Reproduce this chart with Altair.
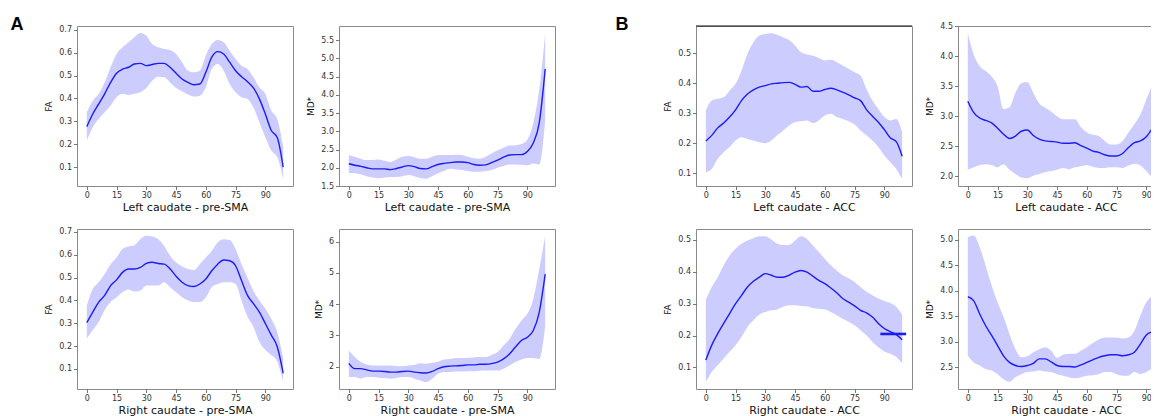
import altair as alt
import pandas as pd

# ---------------- data ----------------
XS = list(range(0, 100, 3))  # 0,3,...,99
X_TICKS = [0, 15, 30, 45, 60, 75, 90]

# A: Left caudate - pre-SMA, FA
P1_MEAN = [0.277,0.332,0.376,0.42,0.47,0.51,0.528,0.536,0.55,0.553,0.543,0.548,0.553,0.553,0.536,0.51,0.485,0.47,0.46,0.463,0.514,0.58,0.604,0.594,0.558,0.521,0.495,0.473,0.446,0.398,0.332,0.26,0.23,0.1]
P1_HI = [0.34,0.39,0.42,0.47,0.536,0.594,0.623,0.645,0.667,0.685,0.674,0.637,0.623,0.616,0.611,0.594,0.558,0.521,0.514,0.521,0.587,0.637,0.655,0.645,0.608,0.572,0.543,0.528,0.492,0.449,0.42,0.347,0.31,0.19]
P1_LO = [0.216,0.274,0.31,0.34,0.369,0.405,0.42,0.415,0.42,0.427,0.446,0.478,0.495,0.492,0.47,0.446,0.431,0.417,0.408,0.412,0.449,0.529,0.55,0.521,0.463,0.427,0.405,0.398,0.361,0.296,0.231,0.173,0.144,0.05]

# A: Left caudate - pre-SMA, MD*
P2_MEAN = [2.11,2.07,2.04,2.0,1.97,1.97,1.97,1.95,1.98,2.02,2.06,2.03,1.98,1.97,2.03,2.09,2.12,2.14,2.16,2.16,2.14,2.09,2.07,2.08,2.14,2.21,2.29,2.35,2.36,2.36,2.45,2.68,3.23,4.71]
P2_HI = [2.35,2.3,2.25,2.21,2.21,2.23,2.19,2.16,2.23,2.3,2.32,2.29,2.25,2.25,2.3,2.35,2.35,2.35,2.36,2.35,2.3,2.26,2.25,2.3,2.39,2.48,2.55,2.61,2.62,2.65,2.77,3.23,4.14,5.68]
P2_LO = [1.86,1.85,1.82,1.77,1.73,1.71,1.73,1.75,1.75,1.77,1.8,1.77,1.72,1.7,1.77,1.85,1.91,1.97,1.95,1.94,1.91,1.89,1.89,1.91,1.94,2.0,2.05,2.09,2.09,2.08,2.07,2.12,2.09,3.3]

# A: Right caudate - pre-SMA, FA
P3_MEAN = [0.303,0.349,0.393,0.422,0.465,0.49,0.523,0.538,0.538,0.545,0.562,0.567,0.562,0.559,0.538,0.506,0.48,0.465,0.461,0.472,0.494,0.53,0.559,0.577,0.574,0.552,0.487,0.422,0.386,0.349,0.299,0.248,0.197,0.081]
P3_HI = [0.378,0.45,0.48,0.516,0.559,0.588,0.625,0.636,0.642,0.668,0.683,0.68,0.668,0.639,0.596,0.567,0.549,0.538,0.533,0.559,0.588,0.617,0.654,0.668,0.665,0.625,0.559,0.501,0.443,0.4,0.364,0.32,0.262,0.146]
P3_LO = [0.233,0.27,0.306,0.357,0.393,0.414,0.436,0.448,0.439,0.443,0.465,0.465,0.465,0.48,0.458,0.436,0.414,0.4,0.393,0.393,0.414,0.458,0.472,0.48,0.48,0.472,0.4,0.328,0.284,0.219,0.183,0.161,0.132,0.045]

# A: Right caudate - pre-SMA, MD*
P4_MEAN = [2.11,1.94,1.94,1.9,1.86,1.86,1.85,1.83,1.83,1.85,1.86,1.83,1.81,1.8,1.85,1.94,2.0,2.02,2.03,2.04,2.06,2.06,2.08,2.08,2.1,2.15,2.25,2.41,2.63,2.84,2.94,3.16,3.74,4.96]
P4_HI = [2.52,2.31,2.15,2.07,2.04,2.04,2.04,2.04,2.02,2.02,2.04,2.06,2.11,2.1,2.13,2.17,2.23,2.25,2.28,2.28,2.29,2.3,2.31,2.31,2.38,2.47,2.68,2.89,3.21,3.47,3.69,4.16,5.12,6.18]
P4_LO = [1.67,1.67,1.62,1.67,1.67,1.65,1.64,1.62,1.64,1.67,1.67,1.62,1.56,1.51,1.62,1.78,1.83,1.83,1.85,1.85,1.86,1.86,1.87,1.88,1.88,1.88,1.94,2.04,2.15,2.23,2.28,2.28,2.25,3.3]

# B: Left caudate - ACC, FA
P5_MEAN = [0.207,0.226,0.251,0.267,0.287,0.311,0.342,0.364,0.378,0.387,0.392,0.398,0.4,0.402,0.403,0.396,0.387,0.389,0.373,0.373,0.379,0.383,0.378,0.37,0.361,0.351,0.342,0.312,0.29,0.27,0.245,0.218,0.205,0.156]
P5_HI = [0.309,0.342,0.348,0.353,0.376,0.398,0.442,0.498,0.537,0.559,0.564,0.567,0.562,0.553,0.544,0.526,0.503,0.496,0.492,0.484,0.476,0.478,0.47,0.459,0.448,0.437,0.426,0.381,0.342,0.314,0.287,0.276,0.281,0.237]
P5_LO = [0.103,0.114,0.148,0.17,0.187,0.209,0.22,0.214,0.209,0.203,0.2,0.209,0.226,0.242,0.259,0.27,0.273,0.276,0.267,0.276,0.292,0.298,0.287,0.281,0.273,0.262,0.242,0.226,0.209,0.187,0.159,0.137,0.114,0.081]

# B: Left caudate - ACC, MD*
P6_MEAN = [3.25,3.06,2.97,2.93,2.89,2.8,2.7,2.63,2.67,2.75,2.77,2.68,2.62,2.59,2.58,2.57,2.55,2.55,2.56,2.51,2.47,2.42,2.4,2.36,2.34,2.34,2.38,2.48,2.56,2.59,2.66,2.8,2.98,3.2]
P6_HI = [4.38,4.02,3.83,3.75,3.66,3.5,3.12,3.15,3.39,3.55,3.57,3.39,3.21,3.14,3.08,3.0,2.95,2.95,2.95,2.82,2.73,2.69,2.67,2.59,2.53,2.53,2.59,2.73,2.87,3.03,3.28,3.55,4.0,4.38]
P6_LO = [2.11,2.15,2.19,2.2,2.19,2.15,2.2,2.11,2.04,1.98,1.97,2.01,2.04,2.07,2.09,2.11,2.14,2.12,2.15,2.17,2.19,2.16,2.14,2.14,2.15,2.15,2.14,2.18,2.21,2.18,2.09,2.0,2.12,2.1]

# B: Right caudate - ACC, FA
P7_MEAN = [0.123,0.17,0.206,0.238,0.269,0.3,0.326,0.352,0.37,0.383,0.394,0.389,0.383,0.383,0.389,0.399,0.404,0.399,0.386,0.373,0.363,0.349,0.334,0.316,0.305,0.293,0.279,0.271,0.258,0.238,0.222,0.212,0.203,0.187]
P7_HI = [0.313,0.352,0.383,0.42,0.451,0.472,0.488,0.498,0.505,0.511,0.511,0.501,0.488,0.484,0.484,0.498,0.511,0.503,0.482,0.461,0.441,0.42,0.404,0.389,0.38,0.368,0.352,0.337,0.326,0.316,0.308,0.302,0.29,0.265]
P7_LO = [0.055,0.086,0.107,0.128,0.149,0.17,0.196,0.227,0.248,0.266,0.274,0.279,0.282,0.29,0.295,0.295,0.293,0.292,0.286,0.284,0.282,0.274,0.264,0.253,0.243,0.232,0.217,0.201,0.18,0.163,0.15,0.143,0.133,0.113]
P7_SEG_X = [88, 101]
P7_SEG_Y = [0.205, 0.205]

# B: Right caudate - ACC, MD*
P8_MEAN = [3.88,3.8,3.54,3.31,3.12,2.92,2.72,2.59,2.53,2.51,2.53,2.57,2.66,2.66,2.6,2.53,2.51,2.51,2.5,2.54,2.59,2.64,2.69,2.72,2.74,2.74,2.72,2.74,2.79,2.95,3.13,3.19,3.21,3.38]
P8_HI = [5.05,5.08,4.85,4.49,4.1,3.77,3.48,3.15,2.85,2.69,2.71,2.79,2.85,2.89,2.82,2.68,2.74,2.76,2.76,2.82,2.89,2.97,3.04,3.08,3.08,3.08,3.06,3.08,3.21,3.51,3.77,3.9,4.0,4.23]
P8_LO = [2.72,2.59,2.53,2.46,2.43,2.36,2.26,2.21,2.3,2.36,2.4,2.41,2.43,2.41,2.4,2.36,2.33,2.3,2.28,2.3,2.33,2.34,2.36,2.4,2.4,2.36,2.33,2.33,2.4,2.36,2.4,2.47,2.49,2.46]

FA_TICKS_A = [0.1, 0.2, 0.3, 0.4, 0.5, 0.6, 0.7]
FA_TICKS_B = [0.1, 0.2, 0.3, 0.4, 0.5]
MD_TICKS_2 = [1.5, 2.0, 2.5, 3.0, 3.5, 4.0, 4.5, 5.0, 5.5]
MD_TICKS_4 = [2, 3, 4, 5, 6]
MD_TICKS_6 = [2.0, 2.5, 3.0, 3.5, 4.0, 4.5]
MD_TICKS_8 = [2.5, 3.0, 3.5, 4.0, 4.5, 5.0]

W, H = 216, 160
LINE_COLOR = "#1c1cf5"
BAND_COLOR = "#0000ff"
X_DOMAIN = [-4.95, 103.95]


def make_panel(mean, lo, hi, ytitle, xtitle, ydomain, yticks, yfmt,
               letter=None, letter_dx=0, seg=None, top_black=False):
    df = pd.DataFrame({"x": XS, "mean": mean, "lo": lo, "hi": hi})
    xs = alt.Scale(domain=X_DOMAIN, nice=False, zero=False)
    ys = alt.Scale(domain=ydomain, nice=False, zero=False)
    xax = alt.Axis(values=X_TICKS, title=xtitle, format="d")
    yax = alt.Axis(values=yticks, title=ytitle, format=yfmt)
    band = alt.Chart(df).mark_area(color=BAND_COLOR, opacity=0.2,
                                   interpolate="monotone").encode(
        x=alt.X("x:Q", scale=xs, axis=xax),
        y=alt.Y("lo:Q", scale=ys, axis=yax),
        y2="hi:Q",
    )
    line = alt.Chart(df).mark_line(color=LINE_COLOR, strokeWidth=1.4,
                                   interpolate="monotone").encode(
        x=alt.X("x:Q", scale=xs, axis=xax),
        y=alt.Y("mean:Q", scale=ys, axis=yax),
    )
    layers = [band, line]
    if seg is not None:
        sdf = pd.DataFrame({"x": seg[0], "mean": seg[1]})
        layers.append(alt.Chart(sdf).mark_line(color=LINE_COLOR, strokeWidth=2.6, clip=False).encode(
            x=alt.X("x:Q", scale=xs, axis=xax),
            y=alt.Y("mean:Q", scale=ys, axis=yax),
        ))
    if top_black:
        tdf = pd.DataFrame({"k": [0]})
        layers.append(alt.Chart(tdf).mark_rule(color="#111111", strokeWidth=1.2).encode(
            x=alt.value(0), x2=alt.value(W), y=alt.value(0)))
    if letter is not None:
        ldf = pd.DataFrame({"t": [letter]})
        layers.append(alt.Chart(ldf).mark_text(
            fontSize=18, fontWeight="bold", font="Liberation Sans",
            align="center", baseline="alphabetic", color="#000000").encode(
            text="t:N", x=alt.value(letter_dx), y=alt.value(4)))
    return alt.layer(*layers).properties(width=W, height=H)


def spacer():
    sdf = pd.DataFrame({"k": [0]})
    return alt.Chart(sdf).mark_point(opacity=0).encode(
        x=alt.value(0), y=alt.value(0)
    ).properties(width=49, height=H, view=alt.ViewBackground(stroke="transparent"))


p1 = make_panel(P1_MEAN, P1_LO, P1_HI, "FA", "Left caudate - pre-SMA",
                [0.018, 0.716], FA_TICKS_A, ".1f", letter="A", letter_dx=-60)
p2 = make_panel(P2_MEAN, P2_LO, P2_HI, "MD*", "Left caudate - pre-SMA",
                [1.5, 5.89], MD_TICKS_2, ".1f")
p3 = make_panel(P3_MEAN, P3_LO, P3_HI, "FA", "Right caudate - pre-SMA",
                [0.012, 0.713], FA_TICKS_A, ".1f")
p4 = make_panel(P4_MEAN, P4_LO, P4_HI, "MD*", "Right caudate - pre-SMA",
                [1.29, 6.4], MD_TICKS_4, "d")
p5 = make_panel(P5_MEAN, P5_LO, P5_HI, "FA", "Left caudate - ACC",
                [0.057, 0.591], FA_TICKS_B, ".1f", letter="B", letter_dx=-74,
                top_black=True)
p6 = make_panel(P6_MEAN, P6_LO, P6_HI, "MD*", "Left caudate - ACC",
                [1.84, 4.5], MD_TICKS_6, ".1f")
p7 = make_panel(P7_MEAN, P7_LO, P7_HI, "FA", "Right caudate - ACC",
                [0.0325, 0.534], FA_TICKS_B, ".1f", seg=(P7_SEG_X, P7_SEG_Y))
p8 = make_panel(P8_MEAN, P8_LO, P8_HI, "MD*", "Right caudate - ACC",
                [2.068, 5.21], MD_TICKS_8, ".1f")

chart = alt.concat(
    p1, p2, spacer(), p5, p6,
    p3, p4, spacer(), p7, p8,
    columns=5,
    spacing={"row": 43, "column": 46},
    bounds="flush",
).properties(
    padding={"left": 2, "top": 7, "right": -24, "bottom": 0}
).configure(
    font="DejaVu Sans"
).configure_view(
    stroke="#8a8a8a", strokeWidth=1
).configure_axis(
    grid=False, domain=False,
    labelFontSize=8, labelColor="#333333", labelPadding=2,
    tickSize=3.5, tickColor="#555555", tickWidth=0.8,
    titleFontWeight="normal", titleColor="#111111",
).configure_axisX(
    titleFontSize=11, titlePadding=2,
).configure_axisY(
    titleFontSize=9, titlePadding=5,
)

chart.save("out.html", embed_options={"renderer": "svg", "actions": False})
